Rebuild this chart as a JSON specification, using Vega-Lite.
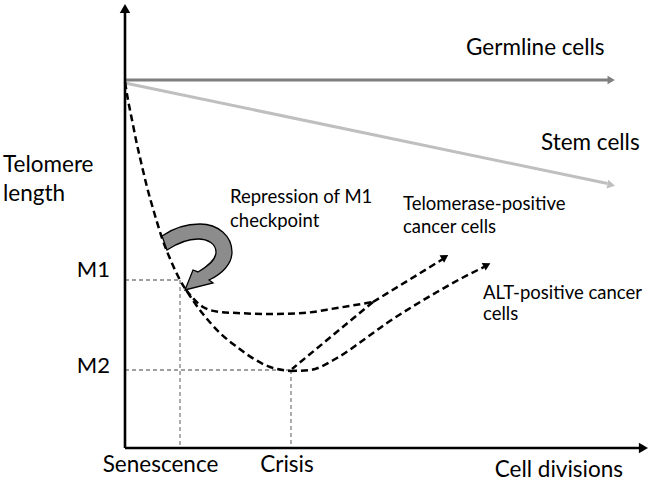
{
  "$schema": "https://vega.github.io/schema/vega-lite/v6.json",
  "width": 652,
  "height": 482,
  "padding": 0,
  "autosize": "none",
  "background": "white",
  "config": {"view": {"stroke": null}, "text": {"font": "Lato", "color": "#000000"}},
  "resolve": {"scale": {"size": "independent", "color": "independent"}},
  "datasets": {
    "lines": [
      {"s": "yaxis", "o": 1, "x": 0, "y": 0},
      {"s": "yaxis", "o": 2, "x": 0, "y": 99.5},
      {"s": "xaxis", "o": 1, "x": 0, "y": 0},
      {"s": "xaxis", "o": 2, "x": 99.3, "y": 0},
      {"s": "germline", "o": 1, "x": 0, "y": 83.64},
      {"s": "germline", "o": 2, "x": 93.0, "y": 83.64},
      {"s": "stem", "o": 1, "x": 0, "y": 82.95},
      {"s": "stem", "o": 2, "x": 92.8, "y": 60.1},
      {"s": "mortal", "o": 1, "x": 0, "y": 83.18},
      {"s": "mortal", "o": 2, "x": 0.58, "y": 79.09},
      {"s": "mortal", "o": 3, "x": 1.35, "y": 74.55},
      {"s": "mortal", "o": 4, "x": 2.12, "y": 70},
      {"s": "mortal", "o": 5, "x": 3.08, "y": 65},
      {"s": "mortal", "o": 6, "x": 4.23, "y": 59.32},
      {"s": "mortal", "o": 7, "x": 5.58, "y": 53.64},
      {"s": "mortal", "o": 8, "x": 7.12, "y": 47.73},
      {"s": "mortal", "o": 9, "x": 8.85, "y": 42.5},
      {"s": "mortal", "o": 10, "x": 10.58, "y": 38.18},
      {"s": "mortal", "o": 11, "x": 12.5, "y": 34.55},
      {"s": "mortal", "o": 12, "x": 15, "y": 30.45},
      {"s": "mortal", "o": 13, "x": 18.27, "y": 26.14},
      {"s": "mortal", "o": 14, "x": 21.54, "y": 22.95},
      {"s": "mortal", "o": 15, "x": 24.81, "y": 20.23},
      {"s": "mortal", "o": 16, "x": 27.88, "y": 18.41},
      {"s": "mortal", "o": 17, "x": 31.73, "y": 17.5},
      {"s": "telomerase", "o": 1, "x": 11.73, "y": 35.91},
      {"s": "telomerase", "o": 2, "x": 15, "y": 32.05},
      {"s": "telomerase", "o": 3, "x": 18.27, "y": 30.91},
      {"s": "telomerase", "o": 4, "x": 21.54, "y": 30.68},
      {"s": "telomerase", "o": 5, "x": 27.88, "y": 30.45},
      {"s": "telomerase", "o": 6, "x": 34.23, "y": 30.68},
      {"s": "telomerase", "o": 7, "x": 40.77, "y": 31.82},
      {"s": "telomerase", "o": 8, "x": 47.69, "y": 33.18},
      {"s": "telomerase_up", "o": 1, "x": 47.69, "y": 33.18},
      {"s": "telomerase_up", "o": 2, "x": 61.15, "y": 42.95},
      {"s": "crisis_link", "o": 1, "x": 47.69, "y": 33.18},
      {"s": "crisis_link", "o": 2, "x": 32.12, "y": 17.95},
      {"s": "alt", "o": 1, "x": 31.73, "y": 17.5},
      {"s": "alt", "o": 2, "x": 35.58, "y": 17.73},
      {"s": "alt", "o": 3, "x": 40.77, "y": 20.45},
      {"s": "alt", "o": 4, "x": 45.58, "y": 24.32},
      {"s": "alt", "o": 5, "x": 50.38, "y": 28.41},
      {"s": "alt", "o": 6, "x": 55.19, "y": 32.05},
      {"s": "alt", "o": 7, "x": 60, "y": 35.45},
      {"s": "alt", "o": 8, "x": 64.81, "y": 38.64},
      {"s": "alt", "o": 9, "x": 69.04, "y": 41.14},
      {"s": "m1_h", "o": 1, "x": 0, "y": 38.18},
      {"s": "m1_h", "o": 2, "x": 10.58, "y": 38.18},
      {"s": "m1_v", "o": 1, "x": 10.58, "y": 38.18},
      {"s": "m1_v", "o": 2, "x": 10.58, "y": 0},
      {"s": "m2_h", "o": 1, "x": 0, "y": 17.73},
      {"s": "m2_h", "o": 2, "x": 31.92, "y": 17.73},
      {"s": "m2_v", "o": 1, "x": 31.92, "y": 17.73},
      {"s": "m2_v", "o": 2, "x": 31.92, "y": 0}
    ],
    "heads": [
      {"h": "yaxis", "x": 0, "y": 99.9, "a": -90},
      {"h": "xaxis", "x": 99.7, "y": 0, "a": 0},
      {"h": "germline", "x": 93.5, "y": 83.64, "a": 0},
      {"h": "stem", "x": 93.5, "y": 59.77, "a": 11.85},
      {"h": "telomerase", "x": 61.54, "y": 43.41, "a": -32},
      {"h": "alt", "x": 69.62, "y": 41.59, "a": -27.5}
    ],
    "band": [
      {"name": "Repression of M1 checkpoint", "x": 14.04, "y": 43.64}
    ],
    "labels": [
      {"t": "Germline cells", "x": 65.58, "y": 89.32, "g": "left", "f": "big"},
      {"t": "Stem cells", "x": 80, "y": 67.73, "g": "left", "f": "big"},
      {"t": "Telomere", "x": -23.46, "y": 62.73, "g": "left", "f": "big"},
      {"t": "length", "x": -23.46, "y": 56.14, "g": "left", "f": "big"},
      {"t": "Repression of M1", "x": 20.19, "y": 55.68, "g": "left", "f": "small"},
      {"t": "checkpoint", "x": 20.19, "y": 50.23, "g": "left", "f": "small"},
      {"t": "Telomerase-positive", "x": 53.46, "y": 54.09, "g": "left", "f": "small"},
      {"t": "cancer cells", "x": 53.46, "y": 48.86, "g": "left", "f": "small"},
      {"t": "ALT-positive cancer", "x": 68.85, "y": 33.86, "g": "left", "f": "small"},
      {"t": "cells", "x": 68.85, "y": 29.09, "g": "left", "f": "small"},
      {"t": "M1", "x": -2.88, "y": 38.86, "g": "right", "f": "mid"},
      {"t": "M2", "x": -2.88, "y": 17.05, "g": "right", "f": "mid"},
      {"t": "Senescence", "x": 6.83, "y": -5.45, "g": "center", "f": "big"},
      {"t": "Crisis", "x": 31.15, "y": -5.45, "g": "center", "f": "big"},
      {"t": "Cell divisions", "x": 95.77, "y": -6.7, "g": "right", "f": "big"}
    ]
  },
  "encoding": {
    "x": {"field": "x", "type": "quantitative", "axis": null, "scale": {"domain": [-24.038, 101.346], "nice": false, "zero": false}},
    "y": {"field": "y", "type": "quantitative", "axis": null, "scale": {"domain": [-7.727, 101.818], "nice": false, "zero": false}}
  },
  "layer": [
    {
      "data": {"name": "lines"},
      "transform": [{"filter": {"field": "s", "oneOf": ["m1_h", "m1_v", "m2_h", "m2_v"]}}],
      "mark": {"type": "line", "color": "#808080", "strokeWidth": 1.3, "strokeDash": [4, 3]},
      "encoding": {"detail": {"field": "s"}, "order": {"field": "o"}}
    },
    {
      "data": {"name": "lines"},
      "transform": [{"filter": {"field": "s", "oneOf": ["germline", "stem"]}}],
      "mark": {"type": "line", "strokeWidth": 3},
      "encoding": {
        "color": {"field": "s", "type": "nominal", "legend": null, "scale": {"domain": ["germline", "stem"], "range": ["#7f7f7f", "#bfbfbf"]}},
        "detail": {"field": "s"},
        "order": {"field": "o"}
      }
    },
    {
      "data": {"name": "lines"},
      "transform": [{"filter": {"field": "s", "oneOf": ["mortal", "telomerase", "telomerase_up", "crisis_link", "alt"]}}],
      "mark": {"type": "line", "color": "#000000", "strokeWidth": 2.5, "strokeDash": [7, 4], "interpolate": "monotone"},
      "encoding": {"detail": {"field": "s"}, "order": {"field": "o"}}
    },
    {
      "data": {"name": "lines"},
      "transform": [{"filter": {"field": "s", "oneOf": ["yaxis", "xaxis"]}}],
      "mark": {"type": "line", "color": "#000000", "strokeWidth": 2.6},
      "encoding": {"detail": {"field": "s"}, "order": {"field": "o"}}
    },
    {
      "data": {"name": "heads"},
      "mark": {"type": "point", "shape": "triangle-right", "filled": true, "opacity": 1},
      "encoding": {
        "angle": {"field": "a", "type": "quantitative", "scale": null},
        "color": {"field": "h", "type": "nominal", "legend": null, "scale": {"domain": ["yaxis", "xaxis", "germline", "stem", "telomerase", "alt"], "range": ["#000000", "#000000", "#7f7f7f", "#bfbfbf", "#000000", "#000000"]}},
        "size": {"field": "h", "type": "nominal", "legend": null, "scale": {"type": "ordinal", "domain": ["yaxis", "xaxis", "germline", "stem", "telomerase", "alt"], "range": [110, 110, 70, 80, 75, 75]}}
      }
    },
    {
      "data": {"name": "band"},
      "mark": {
        "type": "point",
        "filled": true,
        "opacity": 1,
        "fill": "#8c8c8c",
        "stroke": "#000000",
        "strokeWidth": 1.3,
        "size": 5184,
        "shape": "M-1,-0.556 C-0.722,-0.75 -0.361,-0.889 0.056,-0.889 C0.556,-0.889 0.944,-0.556 0.944,-0.111 C0.944,0.222 0.667,0.5 0.306,0.667 L0.417,0.75 L-0.361,0.944 L-0.139,0.389 L0,0.444 C0.278,0.278 0.5,0.111 0.5,-0.111 C0.5,-0.333 0.278,-0.472 0,-0.472 C-0.333,-0.472 -0.611,-0.333 -0.861,-0.167 Z"
      }
    },
    {
      "data": {"name": "labels"},
      "transform": [{"filter": "datum.g === 'left'"}],
      "mark": {"type": "text", "align": "left", "baseline": "alphabetic"},
      "encoding": {
        "text": {"field": "t"},
        "size": {"field": "f", "type": "nominal", "legend": null, "scale": {"type": "ordinal", "domain": ["big", "mid", "small"], "range": [22.5, 22, 18.5]}}
      }
    },
    {
      "data": {"name": "labels"},
      "transform": [{"filter": "datum.g === 'right'"}],
      "mark": {"type": "text", "align": "right", "baseline": "alphabetic"},
      "encoding": {
        "text": {"field": "t"},
        "size": {"field": "f", "type": "nominal", "legend": null, "scale": {"type": "ordinal", "domain": ["big", "mid", "small"], "range": [22.5, 22, 18.5]}}
      }
    },
    {
      "data": {"name": "labels"},
      "transform": [{"filter": "datum.g === 'center'"}],
      "mark": {"type": "text", "align": "center", "baseline": "alphabetic"},
      "encoding": {
        "text": {"field": "t"},
        "size": {"field": "f", "type": "nominal", "legend": null, "scale": {"type": "ordinal", "domain": ["big", "mid", "small"], "range": [22.5, 22, 18.5]}}
      }
    }
  ]
}
